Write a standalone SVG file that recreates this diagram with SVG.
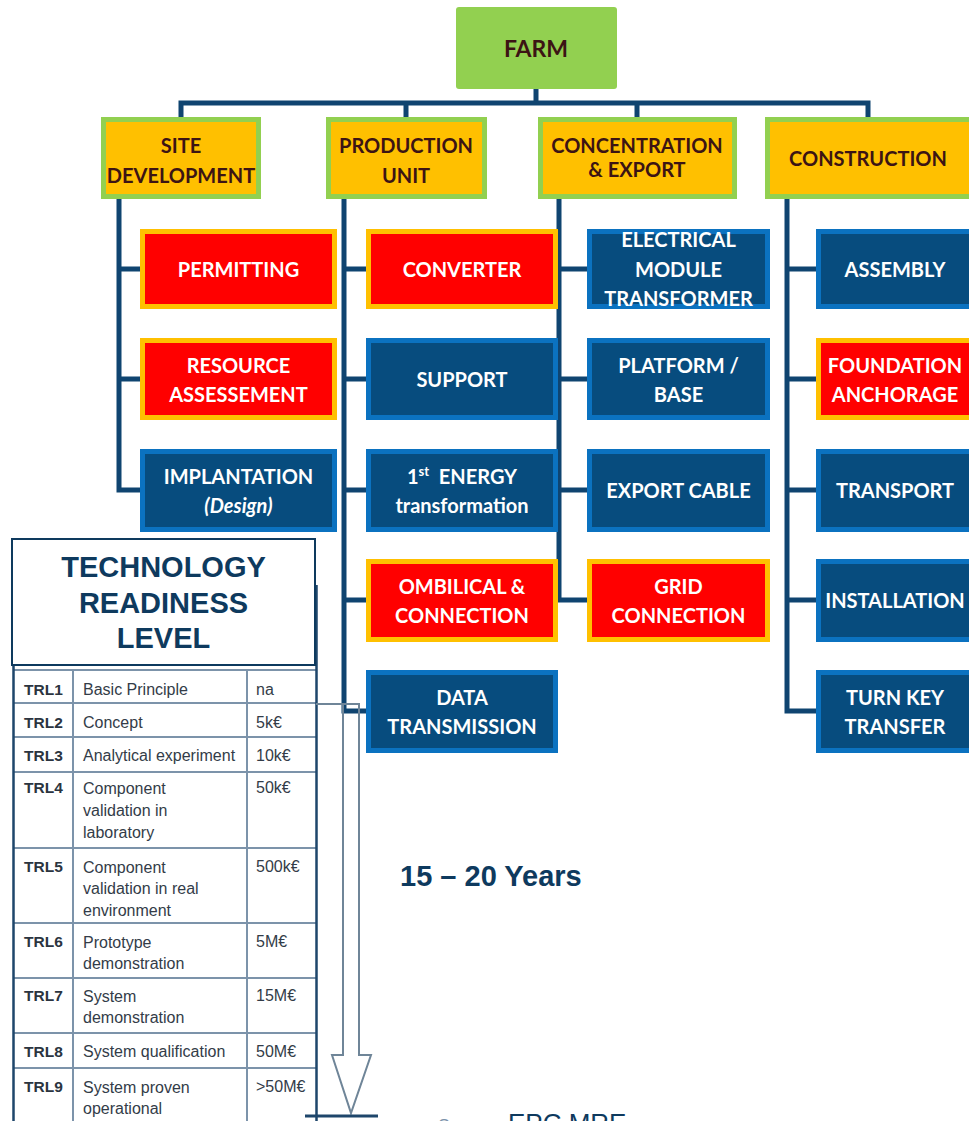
<svg xmlns="http://www.w3.org/2000/svg" width="969" height="1121" viewBox="0 0 969 1121">
<style>
.yel{fill:#FFC000;stroke:#92D050;stroke-width:5}
.red{fill:#FF0000;stroke:#FFC000;stroke-width:5}
.blue{fill:#074C7E;stroke:#0B72C0;stroke-width:5}
.farm{fill:#92D050}
.t1{font-family:Lato,"Open Sans",sans-serif;font-weight:bold;font-size:20px;fill:#3C1414;text-anchor:middle}
.tw{font-family:Lato,"Open Sans",sans-serif;font-weight:bold;font-size:20px;fill:#FFFFFF;text-anchor:middle}
.con{fill:none;stroke:#0F4470;stroke-width:5}
.grid{stroke:#7C93AA;stroke-width:2;fill:none}
.outer{stroke:#1E466B;stroke-width:2.5;fill:none}
.trl{font-family:"Liberation Sans",Arial,sans-serif;font-weight:bold;font-size:15.5px;fill:#2B3440}
.tx{font-family:"Liberation Sans",Arial,sans-serif;font-size:16px;fill:#333C48}
.hd{font-family:"Liberation Sans",Arial,sans-serif;font-weight:bold;font-size:29px;fill:#0E3A5E;text-anchor:middle}
</style>

<g id="connectors">
<path class="con" d="M536,89 V103 M181,118 V103 H868 V118 M406,103 V118 M637,103 V118"/>
<path class="con" d="M119,199 V490 H140 M119,269 H140 M119,379 H140"/>
<path class="con" d="M344,199 V711 H366 M344,269 H366 M344,379 H366 M344,490 H366 M344,600 H366"/>
<path class="con" d="M559,199 V600 H587 M559,269 H587 M559,379 H587 M559,490 H587"/>
<path class="con" d="M787,199 V711 H816 M787,269 H816 M787,379 H816 M787,490 H816 M787,600 H816"/>
</g>

<g id="farm"><rect class="farm" x="456" y="7" width="161" height="82" rx="3"/><text class="t1" x="536" y="57" style="font-size:23px">FARM</text></g>

<g id="site-development"><rect class="yel" x="103.5" y="119.5" width="155" height="77"/><text class="t1" x="181" y="153">SITE</text><text class="t1" x="181" y="183">DEVELOPMENT</text></g>
<g id="production-unit"><rect class="yel" x="328.5" y="119.5" width="156" height="77"/><text class="t1" x="406" y="153">PRODUCTION</text><text class="t1" x="406" y="183">UNIT</text></g>
<g id="concentration-export"><rect class="yel" x="540.5" y="119.5" width="194" height="77"/><text class="t1" x="637" y="153">CONCENTRATION</text><text class="t1" x="637" y="177">&amp; EXPORT</text></g>
<g id="construction"><rect class="yel" x="767.5" y="119.5" width="205" height="77"/><text class="t1" x="868" y="166">CONSTRUCTION</text></g>

<g id="permitting"><rect class="red" x="142.5" y="231.5" width="192" height="75"/><text class="tw" x="238.5" y="277">PERMITTING</text></g>
<g id="resource-assessement"><rect class="red" x="142.5" y="340.5" width="192" height="77"/><text class="tw" x="238.5" y="373">RESOURCE</text><text class="tw" x="238.5" y="402">ASSESSEMENT</text></g>
<g id="implantation"><rect class="blue" x="142.5" y="451.5" width="192" height="78"/><text class="tw" x="238.5" y="484">IMPLANTATION</text><text class="tw" x="238.5" y="513" font-style="italic">(Design)</text></g>

<g id="converter"><rect class="red" x="368.5" y="231.5" width="187" height="75"/><text class="tw" x="462" y="277">CONVERTER</text></g>
<g id="support"><rect class="blue" x="368.5" y="340.5" width="187" height="77"/><text class="tw" x="462" y="387">SUPPORT</text></g>
<g id="energy-transformation"><rect class="blue" x="368.5" y="451.5" width="187" height="78"/><text class="tw" x="462" y="484">1<tspan font-size="13px" dy="-8">st</tspan><tspan dy="8">&#160; ENERGY</tspan></text><text class="tw" x="462" y="513">transformation</text></g>
<g id="ombilical-connection"><rect class="red" x="368.5" y="561.5" width="187" height="78"/><text class="tw" x="462" y="594">OMBILICAL &amp;</text><text class="tw" x="462" y="623">CONNECTION</text></g>
<g id="data-transmission"><rect class="blue" x="368.5" y="672.5" width="187" height="78"/><text class="tw" x="462" y="705">DATA</text><text class="tw" x="462" y="734">TRANSMISSION</text></g>

<g id="electrical-module-transformer"><rect class="blue" x="589.5" y="231.5" width="178" height="75"/><text class="tw" x="678.5" y="247">ELECTRICAL</text><text class="tw" x="678.5" y="277">MODULE</text><text class="tw" x="678.5" y="306">TRANSFORMER</text></g>
<g id="platform-base"><rect class="blue" x="589.5" y="340.5" width="178" height="77"/><text class="tw" x="678.5" y="373">PLATFORM /</text><text class="tw" x="678.5" y="402">BASE</text></g>
<g id="export-cable"><rect class="blue" x="589.5" y="451.5" width="178" height="78"/><text class="tw" x="678.5" y="498">EXPORT CABLE</text></g>
<g id="grid-connection"><rect class="red" x="589.5" y="561.5" width="178" height="78"/><text class="tw" x="678.5" y="594">GRID</text><text class="tw" x="678.5" y="623">CONNECTION</text></g>

<g id="assembly"><rect class="blue" x="818.5" y="231.5" width="160" height="75"/><text class="tw" x="895" y="277">ASSEMBLY</text></g>
<g id="foundation-anchorage"><rect class="red" x="818.5" y="340.5" width="160" height="77"/><text class="tw" x="895" y="373">FOUNDATION</text><text class="tw" x="895" y="402">ANCHORAGE</text></g>
<g id="transport"><rect class="blue" x="818.5" y="451.5" width="160" height="78"/><text class="tw" x="895" y="498">TRANSPORT</text></g>
<g id="installation"><rect class="blue" x="818.5" y="561.5" width="160" height="78"/><text class="tw" x="895" y="608">INSTALLATION</text></g>
<g id="turn-key-transfer"><rect class="blue" x="818.5" y="672.5" width="160" height="78"/><text class="tw" x="895" y="705">TURN KEY</text><text class="tw" x="895" y="734">TRANSFER</text></g>

<g id="trl-table">
<path class="grid" d="M13,670 H316 M13,703 H316 M13,737 H316 M13,772 H316 M13,848 H316 M13,923 H316 M13,978 H316 M13,1033 H316 M13,1068 H316 M73,670 V1121 M247,670 V1121"/>
<path class="outer" d="M13.5,665 V1121 M316.5,585 V1121"/>
<text class="trl" x="24" y="695">TRL1</text><text class="tx" x="83" y="695">Basic Principle</text><text class="tx" x="256" y="695">na</text>
<text class="trl" x="24" y="728">TRL2</text><text class="tx" x="83" y="728">Concept</text><text class="tx" x="256" y="728">5k€</text>
<text class="trl" x="24" y="761">TRL3</text><text class="tx" x="83" y="761">Analytical experiment</text><text class="tx" x="256" y="761">10k€</text>
<text class="trl" x="24" y="793">TRL4</text><text class="tx" x="83" y="794">Component</text><text class="tx" x="83" y="816">validation in</text><text class="tx" x="83" y="838">laboratory</text><text class="tx" x="256" y="793">50k€</text>
<text class="trl" x="24" y="872">TRL5</text><text class="tx" x="83" y="873">Component</text><text class="tx" x="83" y="894">validation in real</text><text class="tx" x="83" y="916">environment</text><text class="tx" x="256" y="872">500k€</text>
<text class="trl" x="24" y="947">TRL6</text><text class="tx" x="83" y="948">Prototype</text><text class="tx" x="83" y="969">demonstration</text><text class="tx" x="256" y="947">5M€</text>
<text class="trl" x="24" y="1001">TRL7</text><text class="tx" x="83" y="1002">System</text><text class="tx" x="83" y="1023">demonstration</text><text class="tx" x="256" y="1001">15M€</text>
<text class="trl" x="24" y="1057">TRL8</text><text class="tx" x="83" y="1057">System qualification</text><text class="tx" x="256" y="1057">50M€</text>
<text class="trl" x="24" y="1092">TRL9</text><text class="tx" x="83" y="1093">System proven</text><text class="tx" x="83" y="1114">operational</text><text class="tx" x="256" y="1092">&gt;50M€</text>
</g>

<g id="trl-header"><rect x="12" y="539" width="303" height="126" fill="#FFFFFF" stroke="#0E3A5E" stroke-width="2"/><text class="hd" x="163.5" y="577">TECHNOLOGY</text><text class="hd" x="163.5" y="613">READINESS</text><text class="hd" x="163.5" y="648">LEVEL</text></g>

<g id="time-arrow">
<path d="M316,704 H359 V1055 H371 L351,1113 L332,1055 H343 V704" fill="none" stroke="#6F8598" stroke-width="2"/>
<path d="M305,1116 H378" stroke="#1E466B" stroke-width="3"/>
<text x="400" y="886" style="font-family:'Liberation Sans',Arial,sans-serif;font-weight:bold;font-size:29px;fill:#0E3A5E">15 – 20 Years</text>
</g>

<g id="source">
<text x="438" y="1132" style="font-family:'Liberation Sans',Arial,sans-serif;font-size:18px;fill:#7C93AA">Source: </text>
<text x="508" y="1132" style="font-family:'Liberation Sans',Arial,sans-serif;font-size:26px;fill:#0E3A5E">EPC MRE</text>
</g>
</svg>
